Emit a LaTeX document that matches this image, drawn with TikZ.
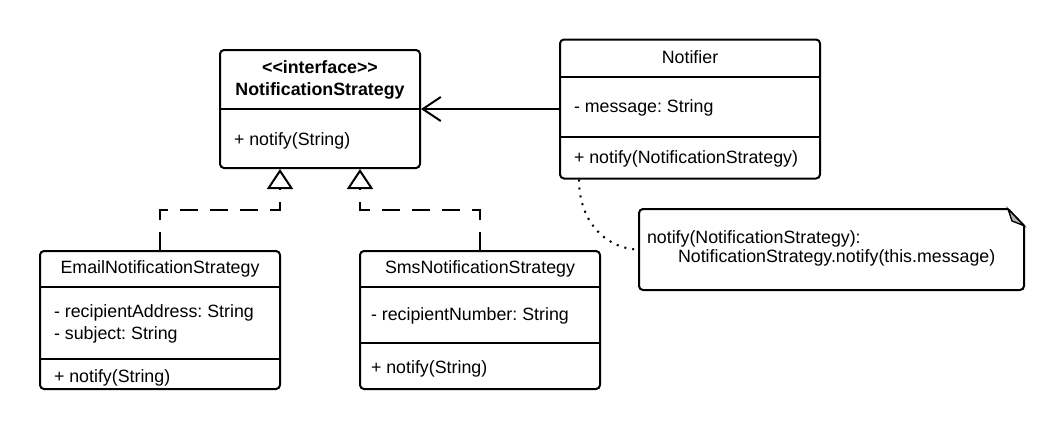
\documentclass[tikz,border=0pt]{standalone}
\usepackage{fontspec}
\setmainfont{Liberation Sans}
\usetikzlibrary{arrows.meta}

\begin{document}
\frenchspacing
\begin{tikzpicture}[x=0.75pt, y=-0.75pt, line width=1.5pt,
    box/.style={draw, rounded corners=3pt, inner sep=0pt},
    txt/.style={inner sep=0pt, text height=9.6pt, text depth=0pt},
    gen/.style={dash pattern=on 13.5pt off 9pt,
      -{Triangle[open, length=15pt, width=19.5pt, fill=white]}},
    assoc/.style={-{Straight Barb[length=13.5pt, width=18pt]}}]
  \fontsize{13.35}{16}\selectfont
  \useasboundingbox (0,0) rectangle (1063,430);

  \path
  (320,109) node[box, minimum width=150pt, minimum height=88.5pt] (NS) {}
  (690,109) node[box, minimum width=195pt, minimum height=104.25pt] (NOT) {}
  (160,320) node[box, minimum width=180pt, minimum height=103.5pt] (EMAIL) {}
  (480,320) node[box, minimum width=180pt, minimum height=103.5pt] (SMS) {};

  % compartments
  \draw (NS.west) -- (NS.east);
  \draw (NOT.west |- 0,77) -- (NOT.east |- 0,77);
  \draw (NOT.west |- 0,137) -- (NOT.east |- 0,137);
  \draw (EMAIL.west |- 0,287) -- (EMAIL.east |- 0,287);
  \draw (EMAIL.west |- 0,359) -- (EMAIL.east |- 0,359);
  \draw (SMS.west |- 0,287) -- (SMS.east |- 0,287);
  \draw (SMS.west |- 0,343) -- (SMS.east |- 0,343);

  % class texts
  \path
  (320,67) node[txt, font=\bfseries] (NSST) {<\kern0pt<interface>\kern0pt>}
  (320,89) node[txt, font=\bfseries] (NSNAME) {NotificationStrategy}
  (233,139) node[txt, anchor=west] (NSOP) {+ notify(String)}
  (690,57) node[txt] (NOTNAME) {Notifier}
  (573,106.5) node[txt, anchor=west] (NOTATT) {- message: String}
  (573,157) node[txt, anchor=west] (NOTOP) {+ notify(NotificationStrategy)}
  (160,267) node[txt] (EMAILNAME) {EmailNotificationStrategy}
  (53,311) node[txt, anchor=west] (EMAILATT1) {- recipientAddress: String}
  (53,333) node[txt, anchor=west] (EMAILATT2) {- subject: String}
  (53,376) node[txt, anchor=west] (EMAILOP) {+ notify(String)}
  (480,267) node[txt] (SMSNAME) {SmsNotificationStrategy}
  (370,314.5) node[txt, anchor=west] (SMSATT) {- recipientNumber: String}
  (370,367.5) node[txt, anchor=west] (SMSOP) {+ notify(String)};

  % note
  \path (831.5,249.5) node[minimum width=287.25pt, minimum height=59.25pt] (NOTE) {};
  \draw[rounded corners=3pt] ([xshift=-12pt]NOTE.north east) -- (NOTE.north west)
    -- (NOTE.south west) -- (NOTE.south east) -- ([yshift=-12.5pt]NOTE.north east);
  \draw[line join=round] ([xshift=-12pt]NOTE.north east) -- ([yshift=-12.5pt]NOTE.north east);
  \filldraw[fill=gray!60, line width=1pt] ([xshift=-12pt]NOTE.north east)
    -- ([xshift=-9pt, yshift=-9pt]NOTE.north east) -- ([yshift=-12.5pt]NOTE.north east) -- cycle;
  \path
  (646,237) node[txt, anchor=west] (NOTE1) {notify(NotificationStrategy):}
  (677,256) node[txt, anchor=west] (NOTE2) {NotificationStrategy.notify(this.message)};

  % relations
  \draw[assoc] (NOT.west) -- (NS.east |- NOT.west);
  \draw[gen] (EMAIL.north) -- ++(0,-40) -| ([xshift=-30pt]NS.south);
  \draw[gen] (SMS.north) -- ++(0,-40) -| ([xshift=30pt]NS.south);
  \draw[dash pattern=on 1.5pt off 4.5pt]
    ([xshift=15pt]NOT.south west) .. controls +(0,45) and +(-30,0) .. (NOTE.west);
\end{tikzpicture}
\end{document}
